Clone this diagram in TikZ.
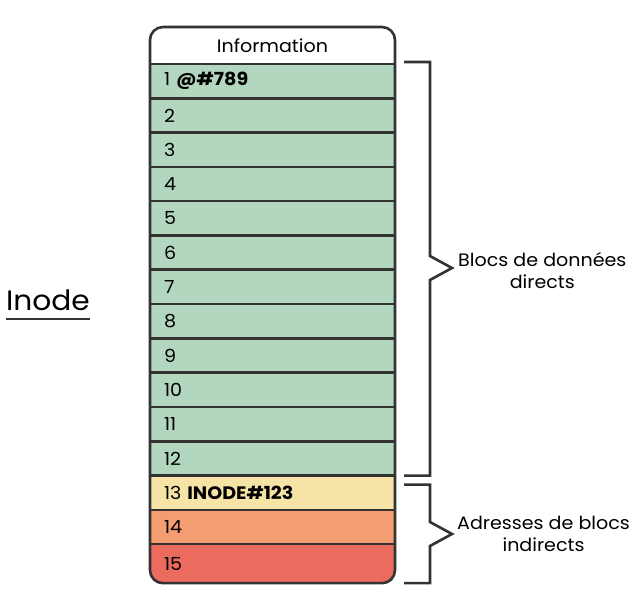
\documentclass[tikz,border=0pt]{standalone}
\usepackage{fontspec}
\setmainfont{Poppins}[FakeStretch=1.06]
\usetikzlibrary{positioning,calc}

\definecolor{direct}{HTML}{B3D6BF}
\definecolor{simple}{HTML}{F6E4A6}
\definecolor{double}{HTML}{F49C72}
\definecolor{triple}{HTML}{EC6B5F}
\definecolor{trait}{HTML}{333333}

\tikzset{
  cell/.style={minimum width=245pt, minimum height=34.3pt, inner xsep=14pt,
    inner ysep=0pt, outer sep=0pt, text width=217pt, align=left,
    font=\fontsize{18}{20}\selectfont, text=black},
  sep/.style={draw=trait, line width=2.6pt},
  bracket/.style={draw=trait, line width=2.6pt, line join=miter},
  label/.style={align=center, inner sep=0pt, font=\fontsize{18}{22}\selectfont},
}

\begin{document}
\begin{tikzpicture}[x=1pt, y=-1pt]
\useasboundingbox (0,0) rectangle (641,596);
% the inode table
\begin{scope}
  \clip[rounded corners=13pt] (150,27) rectangle (395,583);
  \node[cell, fill=white, minimum height=37pt, align=center] (info) at (272.5,45.5) {Information};
  \node[cell, fill=direct, below=0pt of info] (r1) {1 \textbf{@\#789}};
  \foreach \i [count=\p from 1] in {2,...,12}
    \node[cell, fill=direct, below=0pt of r\p] (r\i) {\i};
  \node[cell, fill=simple, below=0pt of r12] (r13) {13 \textbf{INODE\#123}};
  \node[cell, fill=double, below=0pt of r13] (r14) {14};
  \node[cell, fill=triple, minimum height=39pt, below=0pt of r14] (r15) {15};
\end{scope}
\draw[sep] (info.south west) -- (info.south east);
\foreach \i in {1,...,14}
  \draw[sep] (r\i.south west) -- (r\i.south east);
\draw[sep, rounded corners=13pt] (info.north west) rectangle (r15.south east);

% brackets
\coordinate (tip1) at (452,268);
\coordinate (tip2) at (452,534);
\draw[bracket] ($(r1.north east)+(9,-2)$) -- ++(26,0) |- ($(tip1)+(-22,-12)$)
  -- (tip1) -- ($(tip1)+(-22,12)$) |- ($(r12.south east)+(9,0)$);
\draw[bracket] ($(r13.north east)+(9,9)$) -- ++(26,0) |- ($(tip2)+(-22,-12)$)
  -- (tip2) -- ($(tip2)+(-22,12)$) |- ($(r15.south east)+(9,0)$);
\node[label, right=6pt of tip1, yshift=-3pt] (directs) {Blocs de données\\directs};
\node[label, right=5pt of tip2] (indirects) {Adresses de blocs\\indirects};

% title
\node[inner sep=0pt, font=\fontsize{28}{30}\selectfont] (inode) at (48,300) {Inode};
\draw[draw=trait, line width=2pt] ([yshift=-8pt]inode.south west) -- ([yshift=-8pt]inode.south east);
\end{tikzpicture}
\end{document}
